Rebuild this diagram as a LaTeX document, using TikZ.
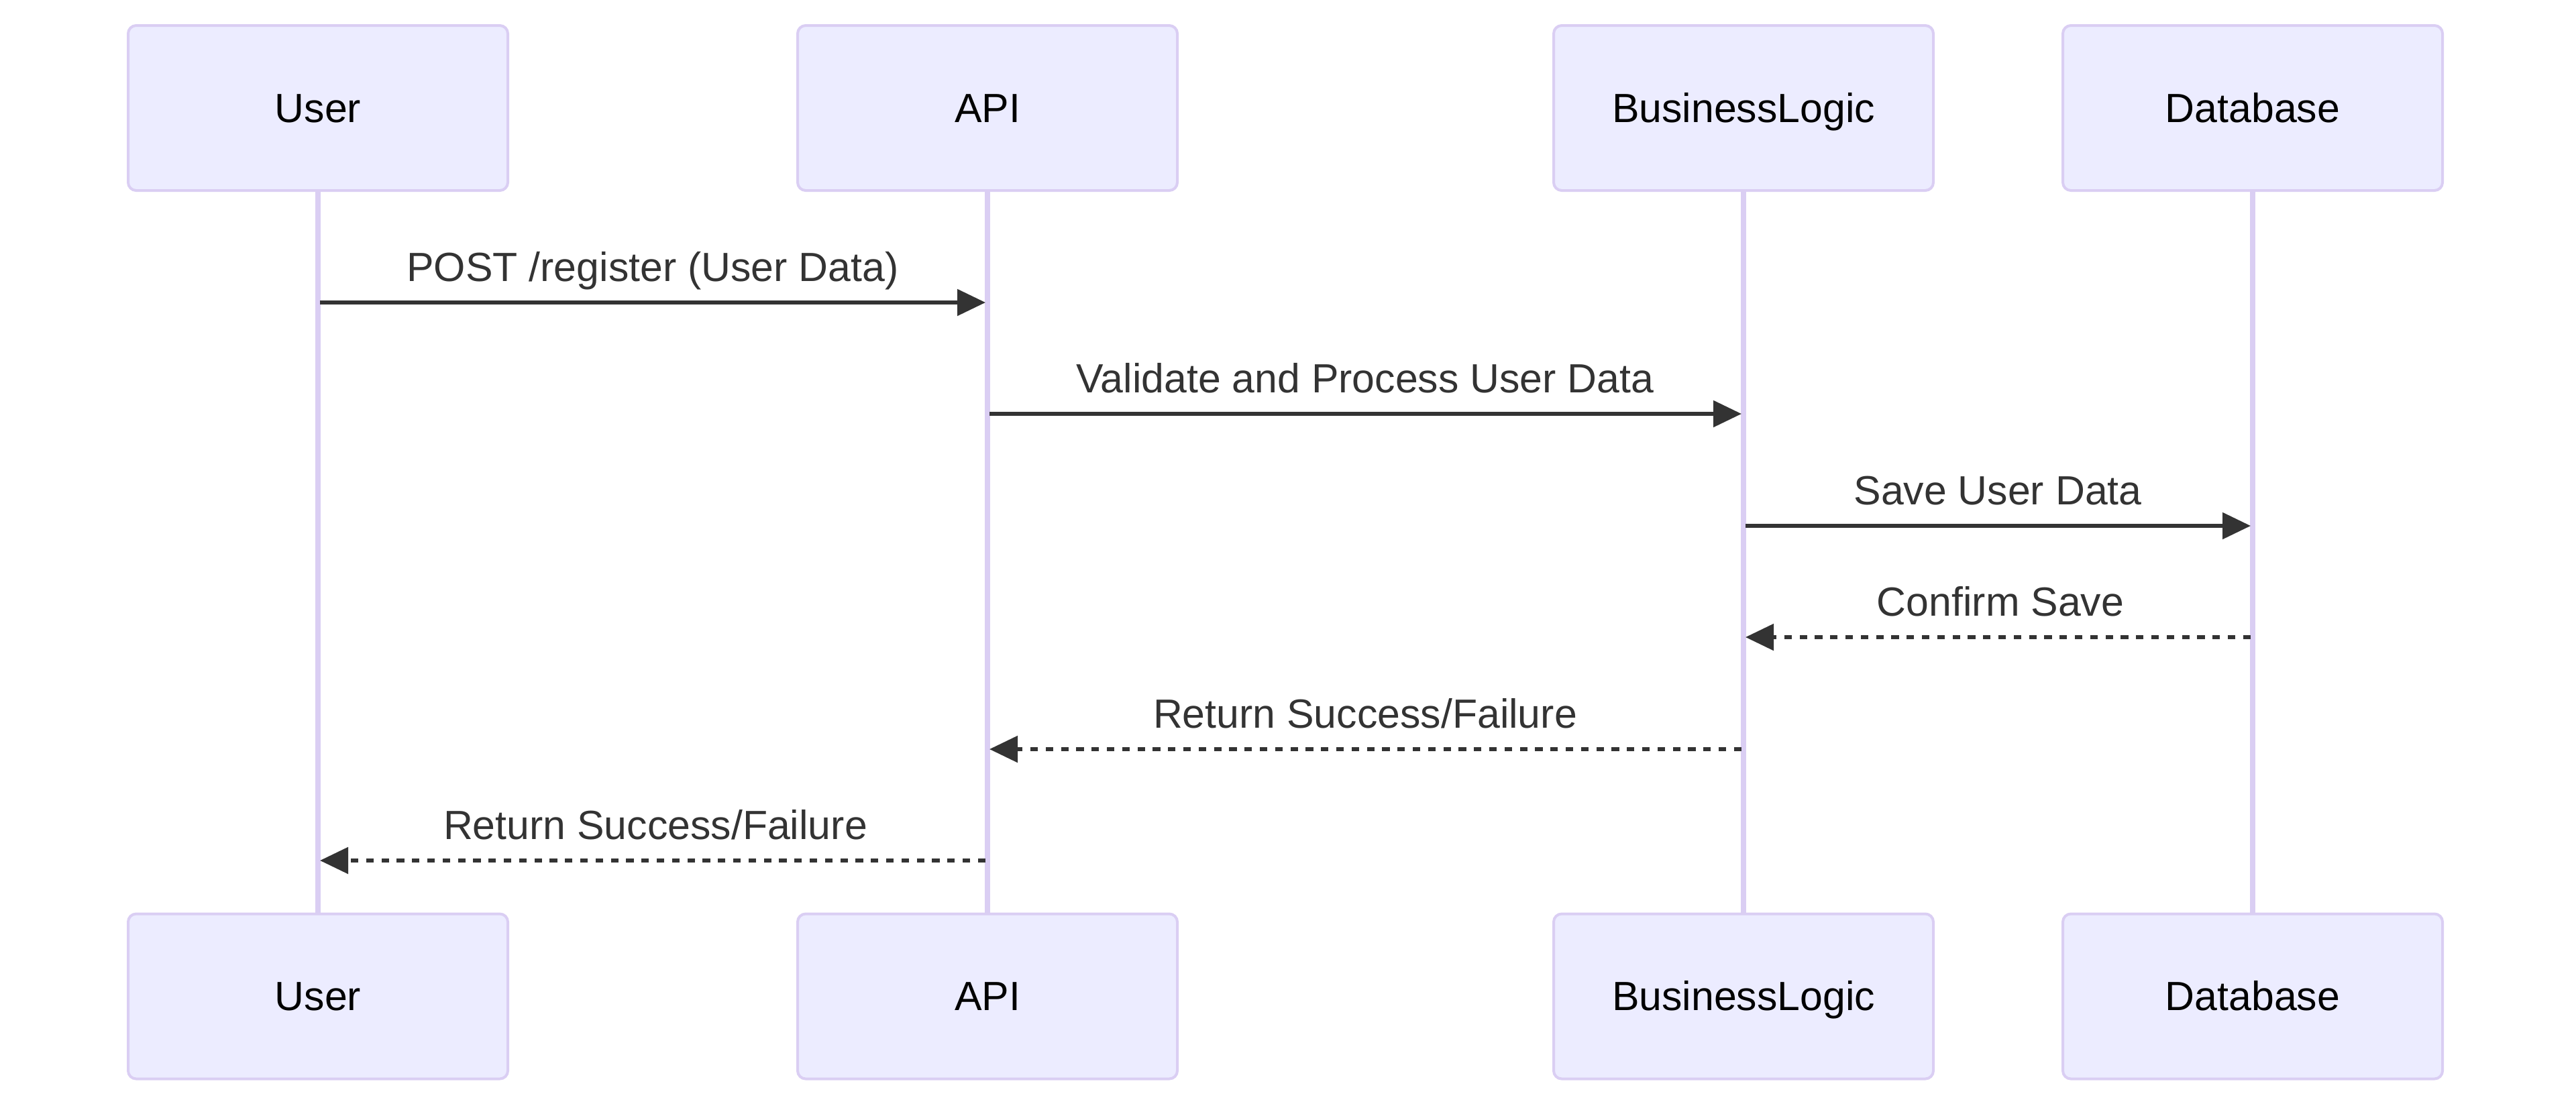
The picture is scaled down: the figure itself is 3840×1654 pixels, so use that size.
\documentclass[tikz,border=0pt]{standalone}
\usepackage{fontspec}
\setmainfont{Liberation Sans}
\usetikzlibrary{arrows.meta}
\definecolor{actfill}{HTML}{ECECFF}
\definecolor{actline}{HTML}{DACEF3}
\definecolor{sig}{HTML}{333333}
\tikzset{
  actor/.style={draw=actline, fill=actfill, line width=1pt, rounded corners=3pt,
    minimum width=141.5pt, minimum height=61.5pt, inner sep=0pt,
    text height=13pt, text depth=2.5pt,
    font=\fontsize{15.2pt}{18pt}\selectfont, text=black},
  lifeline/.style={draw=actline, line width=2pt},
  msg/.style={draw=sig, line width=1.33pt, -{Triangle[length=10.5pt,width=9.75pt]}},
  reply/.style={msg, dash pattern=on 2.8pt off 2.9pt},
  msglabel/.style={anchor=base, text=sig, inner sep=0pt, font=\fontsize{15.2pt}{18pt}\selectfont}
}
\begin{document}
\begin{tikzpicture}[x=0.25pt, y=-0.25pt]
\useasboundingbox (0,0) rectangle (3840,1654);
% lifelines (behind boxes)
\coordinate (uL) at (474,285);  \coordinate (uL2) at (474,1362);
\coordinate (aL) at (1472,285); \coordinate (aL2) at (1472,1362);
\coordinate (bL) at (2599,285); \coordinate (bL2) at (2599,1362);
\coordinate (dL) at (3358,285); \coordinate (dL2) at (3358,1362);
\draw[lifeline] (uL) -- (uL2);
\draw[lifeline] (aL) -- (aL2);
\draw[lifeline] (bL) -- (bL2);
\draw[lifeline] (dL) -- (dL2);
% actor boxes
\node[actor] (uT) at (474,161) {User};
\node[actor] (aT) at (1472,161) {API};
\node[actor] (bT) at (2599,161) {BusinessLogic};
\node[actor] (dT) at (3358,161) {Database};
\node[actor] (uB) at (474,1485.5) {User};
\node[actor] (aB) at (1472,1485.5) {API};
\node[actor] (bB) at (2599,1485.5) {BusinessLogic};
\node[actor] (dB) at (3358,1485.5) {Database};
% message end points
\coordinate (m1s) at (477,451);  \coordinate (m1e) at (1469,451);
\coordinate (m2s) at (1475,617); \coordinate (m2e) at (2596,617);
\coordinate (m3s) at (2602,784); \coordinate (m3e) at (3355,784);
\coordinate (m4s) at (3355,950); \coordinate (m4e) at (2602,950);
\coordinate (m5s) at (2596,1117); \coordinate (m5e) at (1475,1117);
\coordinate (m6s) at (1469,1283); \coordinate (m6e) at (477,1283);
\draw[msg] (m1s) -- (m1e);
\draw[msg] (m2s) -- (m2e);
\draw[msg] (m3s) -- (m3e);
\draw[reply] (m4s) -- (m4e);
\draw[reply] (m5s) -- (m5e);
\draw[reply] (m6s) -- (m6e);
% labels
\node[msglabel] (l1) at (973,419) {POST /register (User Data)};
\node[msglabel] (l2) at (2035,585) {Validate and Process User Data};
\node[msglabel] (l3) at (2978,752) {Save User Data};
\node[msglabel] (l4) at (2982,918) {Confirm Save};
\node[msglabel] (l5) at (2035,1085) {Return Success/Failure};
\node[msglabel] (l6) at (977,1251) {Return Success/Failure};
\end{tikzpicture}
\end{document}
